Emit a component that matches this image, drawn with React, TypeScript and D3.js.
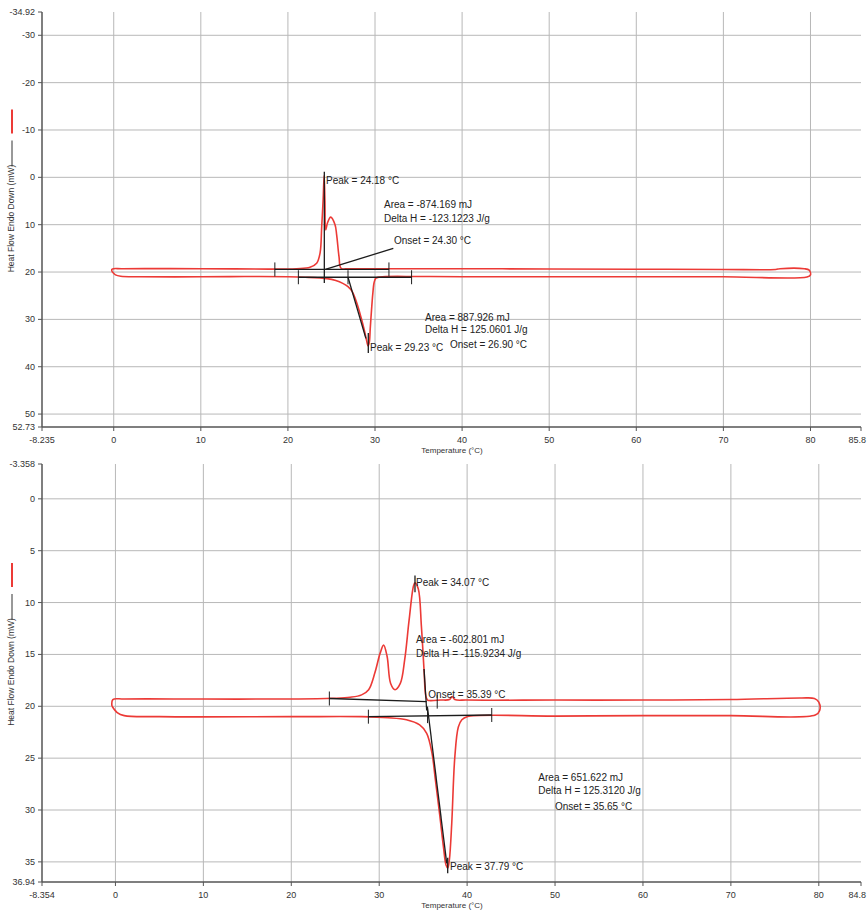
import React from "react";
import * as d3 from "d3";

type Pt = [number, number];

// ---- top run ----
const topXDomain = [-8.235, 85.8];
const topYDomain = [-34.92, 52.73];
const topXTicks = [0, 10, 20, 30, 40, 50, 60, 70, 80];
const topYTicks = [-30, -20, -10, 0, 10, 20, 30, 40, 50];

// heating trace (lower, endo peak down)
const topHeating: Pt[] = [
  [-0.2, 19.9], [0.2, 20.6], [0.8, 20.9], [3, 21.0], [10, 21.0], [15, 20.95], [20, 21.0],
  [22, 21.1], [24.5, 21.4], [25.5, 21.8], [26.3, 22.4], [26.9, 23.1], [27.4, 24.2],
  [27.9, 26.5], [28.4, 29.6], [28.8, 32.5], [29.05, 34.6], [29.2, 35.6], [29.35, 34.8],
  [29.45, 32], [29.6, 28], [29.75, 24.5], [29.9, 22.2], [30.1, 21.3], [30.5, 21.05],
  [35, 20.95], [40, 21.0], [50, 21.0], [60, 21.0], [70, 21.0], [79.6, 21.05], [80.0, 20.6],
];
// cooling trace (upper, exo peak up)
const topCooling: Pt[] = [
  [80.0, 20.6], [79.85, 19.6], [79.3, 19.3], [76.5, 19.3], [76, 19.45], [70, 19.45],
  [60, 19.4], [50, 19.35], [40, 19.3], [30, 19.3], [27, 19.3], [26.1, 19.2],
  [25.87, 16.8], [25.6, 12.2], [25.41, 10.0], [24.91, 8.4], [24.55, 9.6], [24.34, 11.1],
  [24.25, 5.0], [24.16, -0.4], [24.05, 4.5], [23.88, 10.4], [23.69, 16.0], [23.3, 18.15],
  [22.54, 19.0], [21, 19.3], [10, 19.3], [1, 19.3], [-0.2, 19.4], [-0.2, 19.9],
];
const topLines: Pt[][] = [
  [[24.18, -1.2], [24.18, 22.3]],
  [[18.5, 19.45], [31.6, 19.45]],
  [[24.3, 19.45], [32.1, 15.0]],
  [[21.2, 21.1], [34.2, 21.1]],
  [[26.9, 21.1], [28.95, 34.0]],
  [[29.23, 32.9], [29.23, 37.1]],
];
const topMarks: Pt[] = [[18.5, 19.45], [31.6, 19.45], [21.2, 21.1], [26.9, 21.1], [34.2, 21.1]];
const topNotes = [
  "Peak = 24.18 °C", "Area = -874.169 mJ", "Delta H = -123.1223 J/g", "Onset = 24.30 °C",
  "Area = 887.926 mJ", "Delta H = 125.0601 J/g", "Onset = 26.90 °C", "Peak = 29.23 °C",
];
const topNoteAt: Pt[] = [
  [24.37, 0.6], [31.03, 5.8], [31.03, 8.6], [32.18, 13.3],
  [35.74, 29.5], [35.74, 32.2], [38.61, 35.2], [29.43, 36.0],
];

// ---- bottom run ----
const botXDomain = [-8.354, 84.8];
const botYDomain = [-3.358, 36.94];
const botXTicks = [0, 10, 20, 30, 40, 50, 60, 70, 80];
const botYTicks = [0, 5, 10, 15, 20, 25, 30, 35];

const botHeating: Pt[] = [
  [-0.4, 19.97], [0.2, 20.6], [1, 20.9], [5, 21.0], [20, 21.0], [28, 21.0], [31, 21.1],
  [33.1, 21.3], [34.6, 21.8], [35.4, 22.6], [36.0, 24.5], [36.35, 26.8], [36.9, 30.6],
  [37.3, 33.5], [37.6, 35.3], [37.8, 35.6], [37.98, 34.8], [38.25, 31.3], [38.6, 24.9],
  [39.0, 22.0], [39.4, 21.3], [40.0, 21.0], [50, 20.95], [60, 20.9], [70, 20.9],
  [79.6, 20.85], [80.1, 20.4],
];
const botCooling: Pt[] = [
  [80.1, 20.4], [80.0, 19.6], [79.5, 19.25], [78, 19.2], [70, 19.35], [60, 19.4],
  [50, 19.4], [40, 19.4], [38.6, 19.35], [38.3, 19.05], [38.0, 19.35], [37, 19.4],
  [35.8, 19.45], [35.5, 19.4], [35.3, 19.0], [35.1, 16.5], [34.8, 12.3], [34.45, 8.7],
  [34.07, 8.1], [33.9, 8.4], [33.4, 11.7], [32.9, 15.5], [32.4, 17.8], [31.8, 18.4],
  [31.3, 17.8], [30.9, 15.2], [30.5, 14.1], [30.1, 14.9], [29.5, 16.8], [28.8, 18.4],
  [28.0, 18.9], [26.7, 19.13], [24.8, 19.23], [20, 19.3], [10, 19.3], [1, 19.3],
  [-0.3, 19.35], [-0.4, 19.97],
];
const botLines: Pt[][] = [
  [[34.07, 7.4], [34.07, 9.0]],
  [[24.33, 19.25], [35.4, 19.55]],
  [[35.1, 16.4], [35.4, 20.4]],
  [[28.77, 21.0], [42.8, 20.84]],
  [[35.48, 20.04], [37.68, 35.14]],
  [[37.79, 34.6], [37.79, 36.1]],
];
const botMarks: Pt[] = [[24.33, 19.25], [36.6, 19.55], [35.5, 20.95], [28.77, 21.0], [42.8, 20.84]];
const botNotes = [
  "Peak = 34.07 °C", "Area = -602.801 mJ", "Delta H = -115.9234 J/g", "Onset = 35.39 °C",
  "Area = 651.622 mJ", "Delta H = 125.3120 J/g", "Onset = 35.65 °C", "Peak = 37.79 °C",
];
const botNoteAt: Pt[] = [
  [34.19, 8.1], [34.19, 13.6], [34.19, 14.9], [35.59, 18.9],
  [48.1, 26.9], [48.1, 28.1], [50.0, 29.7], [38.06, 35.4],
];

const FONT = "'Liberation Sans', Arial, sans-serif";
const RED = "#ec3a36";
const INK = "#1c1c1c";
const LEFT = 42;
const RIGHT = 861;

type PanelProps = {
  top: number;
  bottom: number;
  xDomain: number[];
  yDomain: number[];
  xTicks: number[];
  yTicks: number[];
  heating: Pt[];
  cooling: Pt[];
  lines: Pt[][];
  marks: Pt[];
  notes: string[];
  noteAt: Pt[];
};

const Panel = (p: PanelProps) => {
  const x = d3.scaleLinear().domain(p.xDomain).range([LEFT, RIGHT]);
  const y = d3.scaleLinear().domain(p.yDomain).range([p.top, p.bottom]);
  const line = d3
    .line<Pt>()
    .x((d) => x(d[0]))
    .y((d) => y(d[1]))
    .curve(d3.curveCatmullRom.alpha(0.5));
  const straight = d3
    .line<Pt>()
    .x((d) => x(d[0]))
    .y((d) => y(d[1]));
  const loop = p.heating.concat(p.cooling.slice(1));
  const mid = (p.top + p.bottom) / 2;
  const xAll = [p.xDomain[0], ...p.xTicks, p.xDomain[1]];
  const yAll = [p.yDomain[0], ...p.yTicks, p.yDomain[1]];

  return (
    <g fontFamily={FONT}>
      {/* grid */}
      {p.xTicks.map((t) => (
        <line key={"gx" + t} x1={x(t)} x2={x(t)} y1={p.top} y2={p.bottom} stroke="#b8b8b8" strokeWidth={1} />
      ))}
      {p.yTicks.map((t) => (
        <line key={"gy" + t} x1={LEFT} x2={RIGHT} y1={y(t)} y2={y(t)} stroke="#b8b8b8" strokeWidth={1} />
      ))}

      {/* axes */}
      <line x1={LEFT} x2={LEFT} y1={p.top} y2={p.bottom} stroke="#555" strokeWidth={1.5} />
      <line x1={LEFT} x2={RIGHT} y1={p.bottom} y2={p.bottom} stroke="#555" strokeWidth={1.5} />
      {yAll.map((t, i) => (
        <g key={"ty" + i}>
          <line x1={LEFT - 4} x2={LEFT} y1={y(t)} y2={y(t)} stroke="#555" />
          <text x={LEFT - 7} y={y(t)} textAnchor="end" dominantBaseline="central" fontSize={9} fill="#333">
            {String(t)}
          </text>
        </g>
      ))}
      {xAll.map((t, i) => {
        const last = i === xAll.length - 1;
        return (
          <g key={"tx" + i}>
            <line x1={x(t)} x2={x(t)} y1={p.bottom} y2={p.bottom + 4} stroke="#555" />
            <text
              x={last ? 866 : x(t)}
              y={p.bottom + 16}
              textAnchor={last ? "end" : "middle"}
              fontSize={9}
              fill="#333"
            >
              {String(t)}
            </text>
          </g>
        );
      })}
      <text x={452} y={p.bottom + 26} textAnchor="middle" fontSize={8} fill="#333">
        Temperature (°C)
      </text>

      {/* y label with legend strokes */}
      <line x1={12} x2={12} y1={mid - 110} y2={mid - 86} stroke={RED} strokeWidth={2} />
      <line x1={12} x2={12} y1={mid - 79} y2={mid - 53} stroke="#333" strokeWidth={1} />
      <text
        transform={`translate(14,${mid - 1}) rotate(-90)`}
        textAnchor="middle"
        fontSize={8.5}
        fill="#333"
      >
        Heat Flow Endo Down (mW)
      </text>

      {/* curve */}
      <path d={line(loop) || ""} fill="none" stroke={RED} strokeWidth={1.6} strokeLinejoin="round" />

      {/* analysis lines */}
      {p.lines.map((s, i) => (
        <path key={"l" + i} d={straight(s) || ""} stroke={INK} strokeWidth={1.3} fill="none" />
      ))}
      {p.marks.map((m, i) => (
        <line key={"m" + i} x1={x(m[0])} x2={x(m[0])} y1={y(m[1]) - 7} y2={y(m[1]) + 7} stroke={INK} strokeWidth={1} />
      ))}
      {p.notes.map((n, i) => (
        <text
          key={"n" + i}
          x={x(p.noteAt[i][0])}
          y={y(p.noteAt[i][1])}
          dominantBaseline="central"
          fontSize={10}
          fill="#222"
        >
          {n}
        </text>
      ))}
    </g>
  );
};

export default function App() {
  return (
    <svg
      width={867}
      height={914}
      style={{ position: "absolute", left: 0, top: 0, background: "#fff" }}
    >
      <rect width={867} height={914} fill="#fff" />
      <Panel
        top={12}
        bottom={427}
        xDomain={topXDomain}
        yDomain={topYDomain}
        xTicks={topXTicks}
        yTicks={topYTicks}
        heating={topHeating}
        cooling={topCooling}
        lines={topLines}
        marks={topMarks}
        notes={topNotes}
        noteAt={topNoteAt}
      />
      <Panel
        top={464}
        bottom={882}
        xDomain={botXDomain}
        yDomain={botYDomain}
        xTicks={botXTicks}
        yTicks={botYTicks}
        heating={botHeating}
        cooling={botCooling}
        lines={botLines}
        marks={botMarks}
        notes={botNotes}
        noteAt={botNoteAt}
      />
    </svg>
  );
}
